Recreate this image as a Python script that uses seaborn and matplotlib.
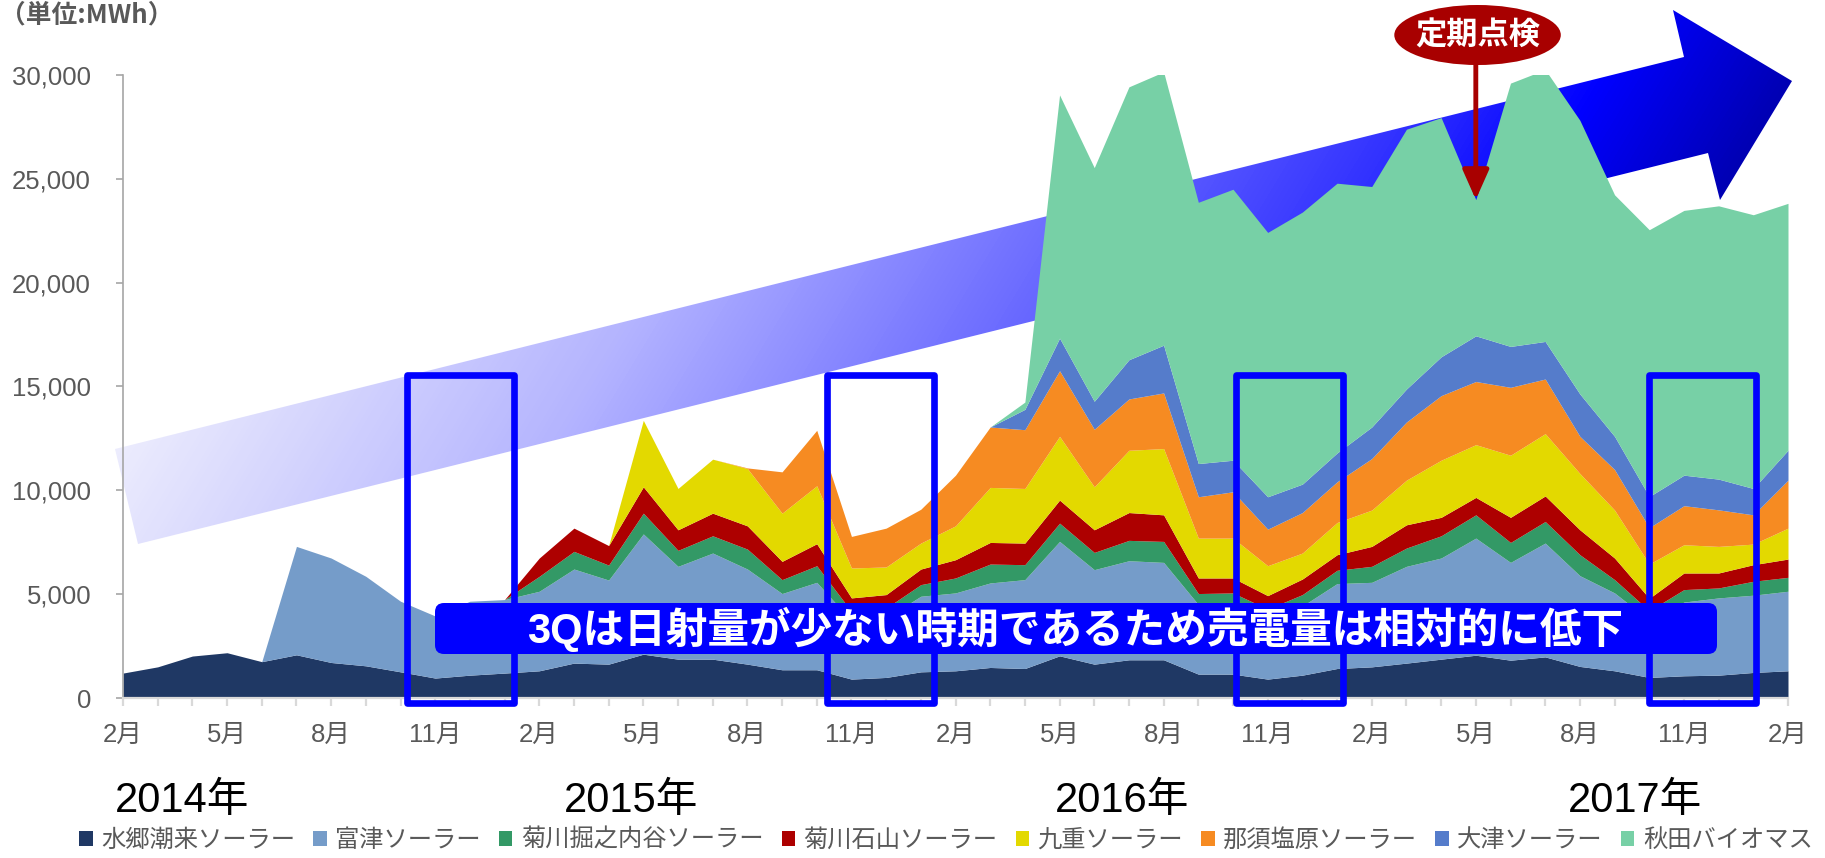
import numpy as np
import pandas as pd
import matplotlib
matplotlib.use("Agg")
import matplotlib.pyplot as plt
import matplotlib.transforms as mtransforms
import seaborn as sns
from matplotlib.patches import Polygon, Rectangle, Ellipse, FancyBboxPatch, Patch
from matplotlib.colors import LinearSegmentedColormap
from matplotlib.ticker import FuncFormatter

# ============ Data (MWh per month, Feb 2014 .. Feb 2018 axis) ============
months = list(range(49))
month_names = ['2月', '5月', '8月', '11月']

suigo = [1200, 1500, 2020, 2180, 1750, 2080, 1710, 1550, 1260, 960, 1100, 1200, 1310,
         1680, 1630, 2110, 1870, 1870, 1630, 1360, 1360, 910, 990, 1260, 1310, 1470,
         1420, 2030, 1630, 1840, 1840, 1150, 1150, 910, 1100, 1420, 1500, 1680, 1870,
         2060, 1820, 1980, 1520, 1310, 990, 1070, 1100, 1230, 1310]
futtsu = [0, 0, 0, 0, 0, 5220, 5030, 4310, 3400, 2990, 3560, 3540, 3830, 4530, 4050,
          5790, 4470, 5110, 4580, 3670, 4210, 2810, 2860, 3640, 3750, 4070, 4280, 5510,
          4550, 4770, 4690, 3350, 3400, 2920, 3330, 4090, 4070, 4660, 4870, 5640, 4710,
          5480, 4370, 3750, 2760, 3550, 3720, 3720, 3830]
kikugawa_hori = [0] * 12 + [720, 850, 720, 1000, 770, 830, 960, 670, 800, 450, 480, 560,
                            720, 910, 720, 880, 830, 980, 1010, 530, 510, 450, 550, 640,
                            770, 880, 1070, 1120, 960, 1040, 1010, 640, 450, 600, 480,
                            670, 670]
kikugawa_ishi = [0] * 12 + [880, 1120, 940, 1270, 990, 1090, 1120, 880, 1060, 650, 650,
                            750, 880, 1040, 1040, 1110, 1090, 1340, 1280, 750, 720, 650,
                            750, 750, 960, 1120, 890, 840, 1210, 1230, 1200, 1040, 600,
                            800, 720, 800, 880]
kokonoe = [0] * 15 + [3200, 1990, 2600, 2760, 2320, 2790, 1440, 1330, 1250, 1630, 2650,
                      2630, 3070, 2070, 3000, 3190, 1920, 1920, 1440, 1250, 1550, 1750,
                      2150, 2750, 2540, 2990, 3000, 2710, 2310, 1650, 1360, 1280, 990,
                      1490]
nasushiobara = [0] * 18 + [30, 1990, 2670, 1520, 1870, 1630, 2440, 2910, 2830, 3160,
                           2770, 2470, 2680, 1990, 2230, 1760, 1950, 1960, 2480, 2800,
                           3110, 3040, 3270, 2630, 1790, 1950, 1750, 1880, 1760, 1410,
                           2310]
otsu = [0] * 26 + [980, 1570, 1350, 1890, 2300, 1600, 1520, 1560, 1370, 1390, 1520,
                   1590, 1870, 2200, 1970, 1810, 2040, 1600, 1500, 1470, 1480, 1270, 1440]
akita = [0] * 26 + [350, 11710, 11250, 13140, 13160, 12580, 13050, 12730, 13100, 12990,
                    11580, 12510, 11520, 6560, 12680, 13090, 13180, 11630, 12850, 12750,
                    13160, 13180, 11890]

series_names = ['水郷潮来ソーラー', '富津ソーラー', '菊川掘之内谷ソーラー', '菊川石山ソーラー',
                '九重ソーラー', '那須塩原ソーラー', '大津ソーラー', '秋田バイオマス']
colors = ['#1f3864', '#759cc9', '#339966', '#ad0000', '#e3d900', '#f68b22', '#557ccb', '#77d0a6']

year_labels = ['2014年', '2015年', '2016年', '2017年']
year_pos = [1.7, 14.65, 28.8, 43.6]
box_starts = [8.2, 20.3, 32.1, 44.0]
inspection_month = 39

df = pd.DataFrame(dict(zip(series_names, [suigo, futtsu, kikugawa_hori, kikugawa_ishi,
                                          kokonoe, nasushiobara, otsu, akita])), index=months)

# ============ Style ============
sns.set_theme(style='white')
plt.rcParams['font.family'] = ['Liberation Sans', 'Noto Sans CJK JP']
GRAY = '#595959'

W, H = 1825, 858
fig = plt.figure(figsize=(W / 100, H / 100), dpi=100)

# ---- background: big gradient arrow (pixel coordinates) ----
bg = fig.add_axes([0, 0, 1, 1], zorder=0)
arrow_pts = [(115, 449), (1684, 57), (1673, 10), (1792, 81), (1720, 200), (1708, 153), (138, 544)]
poly = Polygon(arrow_pts, closed=True, facecolor='none', edgecolor='none')
bg.add_patch(poly)
gx, gy = np.meshgrid(np.linspace(100, 1800, 500), np.linspace(0, 560, 180))
t = np.clip((gx - 115 + 0.6 * (gy - 449)) / 1456, 0, 1)
cmap = LinearSegmentedColormap.from_list('arr', [(0, '#ececfd'), (0.3, '#b4b4ff'), (0.55, '#6e6eff'),
                                                 (0.75, '#3232ff'), (0.87, '#0000ff'), (1, '#0000b4')])
im = bg.imshow(t, extent=(100, 1800, 560, 0), cmap=cmap, vmin=0, vmax=1, aspect='auto',
               interpolation='bilinear')
im.set_clip_path(poly)
bg.set_xlim(0, W)
bg.set_ylim(H, 0)
bg.axis('off')

# ---- main chart ----
ax = fig.add_axes([123 / W, (H - 698) / H, (1788 - 123) / W, (698 - 75) / H], zorder=1)
ax.patch.set_visible(False)
ax.stackplot(df.index, *[df[c] for c in series_names], colors=colors, labels=series_names,
             linewidth=0)
ax.set_xlim(0, 48)
ax.set_ylim(0, 30000)
sns.despine(ax=ax)
ax.spines['left'].set_color('#a6a6a6')
ax.spines['left'].set_linewidth(1.2)
ax.spines['bottom'].set_color('#d9d9d9')
ax.spines['bottom'].set_linewidth(1.6)

ax.set_yticks(range(0, 30001, 5000))
ax.yaxis.set_major_formatter(FuncFormatter(lambda v, p: f'{int(v):,}'))
ax.tick_params(axis='y', left=True, length=5, width=1.2, color='#a6a6a6',
               labelsize=18.5, labelcolor=GRAY, pad=18)
ax.set_xticks(months)
ax.set_xticklabels([month_names[(m // 3) % 4] if m % 3 == 0 else '' for m in months])
ax.tick_params(axis='x', bottom=True, length=6, width=1.6, color='#d9d9d9',
               labelsize=18.5, labelcolor=GRAY, pad=12)
ax.grid(False)

# year labels under the month axis
ytrans = mtransforms.blended_transform_factory(ax.transData, fig.transFigure)
for x, lab in zip(year_pos, year_labels):
    ax.text(x, (H - 801) / H, lab, transform=ytrans, ha='center', va='center',
            fontsize=30, color='black')

# 3Q boxes
for x0 in box_starts:
    ax.add_patch(Rectangle((x0, -240), 3.08, 15795, fill=False, ec='#0000ff', lw=4.8,
                           joinstyle='round', clip_on=False, zorder=15))

# inspection callout
total = df.sum(axis=1)
ax.add_patch(Ellipse((inspection_month + 0.05, 31926), 4.8, 2890, fc='#a80000', ec='none',
                     clip_on=False, zorder=20))
ax.text(inspection_month + 0.05, 31926, '定期点検', color='white', fontsize=22.5,
        fontweight='bold', ha='center', va='center', zorder=21,
        family=['Noto Sans CJK JP'])
ax.annotate('', xy=(inspection_month, total[inspection_month]), xytext=(inspection_month, 30480),
            arrowprops=dict(arrowstyle='-|>,head_length=0.9,head_width=0.4', color='#a80000',
                            lw=3.5, shrinkA=0, shrinkB=0, mutation_scale=20),
            annotation_clip=False, zorder=20)

# ---- foreground banner (pixel coordinates) ----
fg = fig.add_axes([0, 0, 1, 1], zorder=2)
fg.set_xlim(0, W)
fg.set_ylim(H, 0)
fg.axis('off')
fg.add_patch(FancyBboxPatch((435, 603), 1282, 51, boxstyle='round,pad=0,rounding_size=9',
                            fc='#0000ff', ec='none'))
fg.text(1075, 629, '3Qは日射量が少ない時期であるため売電量は相対的に低下', color='white',
        fontsize=30, fontweight='bold', ha='center', va='center')

# unit label
fig.text(0, 1 - 15 / H, '（単位:MWh）', ha='left', va='center', fontsize=18.5,
         fontweight='bold', color=GRAY, family=['Noto Sans CJK JP'])

# legend
handles = [Patch(facecolor=c, edgecolor='none') for c in colors]
fig.legend(handles, series_names, loc='center', bbox_to_anchor=(946 / W, 1 - 840 / H),
           ncol=8, frameon=False, handlelength=0.55, handleheight=0.55, handletextpad=0.35,
           columnspacing=0.75, labelcolor=GRAY,
           prop={'family': 'Noto Sans CJK JP', 'size': 17.5})

fig.savefig('out.png', dpi=100)
